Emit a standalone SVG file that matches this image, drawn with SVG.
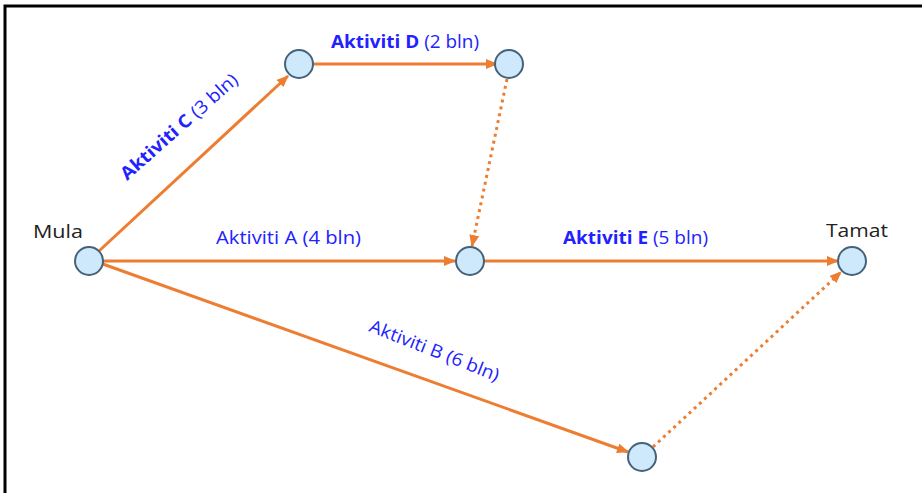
<svg xmlns="http://www.w3.org/2000/svg" width="922" height="493" viewBox="0 0 922 493">
<defs>
<marker id="ah" markerWidth="12" markerHeight="10" refX="11" refY="5" orient="auto" markerUnits="userSpaceOnUse">
<path d="M0,0 L12,5 L0,10 Z" fill="#ed7d31"/>
</marker>
<style>
.n{fill:#cde9fb;stroke:#46617a;stroke-width:2}
.e{stroke:#ed7d31;stroke-width:3;fill:none}
.d{stroke:#ed7d31;stroke-width:3;fill:none;stroke-dasharray:3 4}
.l{font-family:"Open Sans","Liberation Sans",sans-serif;font-size:18px;fill:#2222ff}
.b{font-weight:bold}
.t{font-family:"Open Sans","Liberation Sans",sans-serif;font-size:19px;fill:#222}
</style>
</defs>
<rect x="0" y="0" width="922" height="493" fill="#fff"/>
<path d="M5,493 L5,6 L922,6" fill="none" stroke="#000" stroke-width="3"/>
<g id="connectors">
<line class="e" x1="99" y1="251" x2="288" y2="76" marker-end="url(#ah)"/>
<line class="e" x1="313" y1="64" x2="497" y2="64" marker-end="url(#ah)"/>
<line class="e" x1="103" y1="261" x2="455" y2="261" marker-end="url(#ah)"/>
<line class="e" x1="484" y1="261" x2="838" y2="261" marker-end="url(#ah)"/>
<line class="e" x1="100" y1="263" x2="628" y2="452" marker-end="url(#ah)"/>
<line class="d" x1="507" y1="79" x2="472" y2="246" marker-end="url(#ah)"/>
<line class="d" x1="653" y1="447" x2="841" y2="272" marker-end="url(#ah)"/>
</g>
<g id="mula"><circle class="n" cx="89" cy="261" r="14"/><text class="t" x="33" y="238" textLength="50" lengthAdjust="spacingAndGlyphs">Mula</text></g>
<g id="nodeC"><circle class="n" cx="299" cy="64" r="14"/></g>
<g id="nodeD"><circle class="n" cx="509" cy="64" r="14"/></g>
<g id="nodeA"><circle class="n" cx="470" cy="261" r="14"/></g>
<g id="tamat"><circle class="n" cx="852" cy="261" r="14"/><text class="t" x="826" y="237" textLength="62" lengthAdjust="spacingAndGlyphs">Tamat</text></g>
<g id="nodeB"><circle class="n" cx="642" cy="457" r="14"/></g>
<g id="labels">
<text class="l" x="331" y="48" textLength="148" lengthAdjust="spacingAndGlyphs"><tspan class="b">Aktiviti D</tspan> (2 bln)</text>
<text class="l" x="216" y="244" textLength="145" lengthAdjust="spacingAndGlyphs">Aktiviti A (4 bln)</text>
<text class="l" x="563" y="244" textLength="145" lengthAdjust="spacingAndGlyphs"><tspan class="b">Aktiviti E</tspan> (5 bln)</text>
<text class="l" transform="translate(127,181) rotate(-41.5)" textLength="150" lengthAdjust="spacingAndGlyphs"><tspan class="b">Aktiviti C</tspan> (3 bln)</text>
<text class="l" transform="translate(368,331) rotate(21.5)" textLength="138" lengthAdjust="spacingAndGlyphs">Aktiviti B (6 bln)</text>
</g>
</svg>
